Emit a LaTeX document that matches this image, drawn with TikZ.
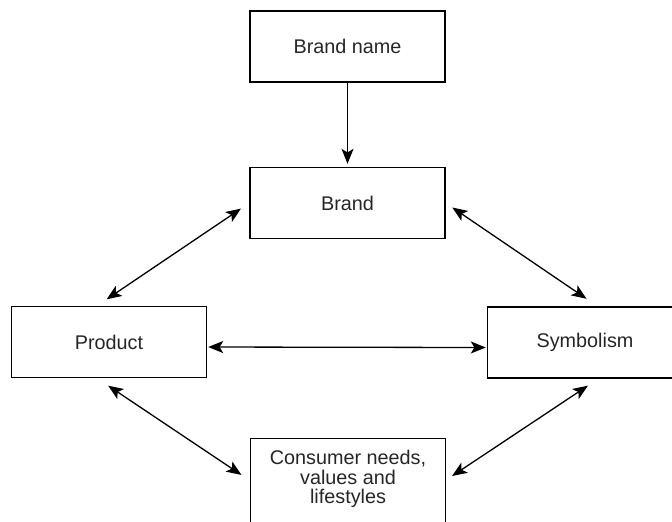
\documentclass[tikz,border=0pt]{standalone}
\usepackage{fontspec}
\setmainfont{Liberation Sans}
\usetikzlibrary{arrows.meta}

\begin{document}
\begin{tikzpicture}[x=0.5pt,y=-0.5pt,
            box/.style={draw, line width=0.7pt, minimum width=97.5pt, minimum height=35.5pt},
            txt/.style={font=\fontsize{9.9pt}{9.6pt}\selectfont, text=black!85},
            feed/.style={line width=0.65pt, -{Stealth[length=7.5pt,width=6pt,inset=1.8pt]}},
            link/.style={line width=0.65pt, {Stealth[length=7.5pt,width=6pt,inset=1.8pt]}-{Stealth[length=7.5pt,width=6pt,inset=1.8pt]}}]
            \useasboundingbox (0,0) rectangle (672,521);
            \clip (0,0) rectangle (672,521);

            \node[box, txt] (brandname) at (347.5,46.5) {Brand name};
            \node[box, txt] (brand) at (347.5,203) {Brand};
            \node[box, txt] (product) at (109,342) {Product};
            \node[box, txt] (symbolism) at (585,342.5) {Symbolism};
            \node[box, minimum height=50pt, anchor=north] (consumer) at (348,437.5) {};
            \node[txt, align=center] (consumertext) at (348,479) {Consumer needs,\\values and\\lifestyles};

            \draw[feed, shorten >=1.5pt] (brandname.south) -- (brand.north);
            \draw[link, shorten <=5pt, shorten >=5.8pt] (brand.west) -- ([xshift=-6pt]product.north);
            \draw[link, shorten <=4pt, shorten >=6.7pt] (brand.east) -- ([xshift=6.3pt]symbolism.north);
            \draw[link, shorten <=0.5pt, shorten >=0.5pt] ([yshift=-2.5pt]product.east) -- ([yshift=-2.5pt]symbolism.west);
            \draw[link, shorten <=6.7pt, shorten >=5pt] ([xshift=-6pt]product.south) -- ([yshift=-21.5pt]consumer.north west);
            \draw[link, shorten <=6.3pt, shorten >=3.5pt] ([xshift=6.7pt]symbolism.south) -- ([yshift=-21.2pt]consumer.north east);
         \end{tikzpicture}
\end{document}
